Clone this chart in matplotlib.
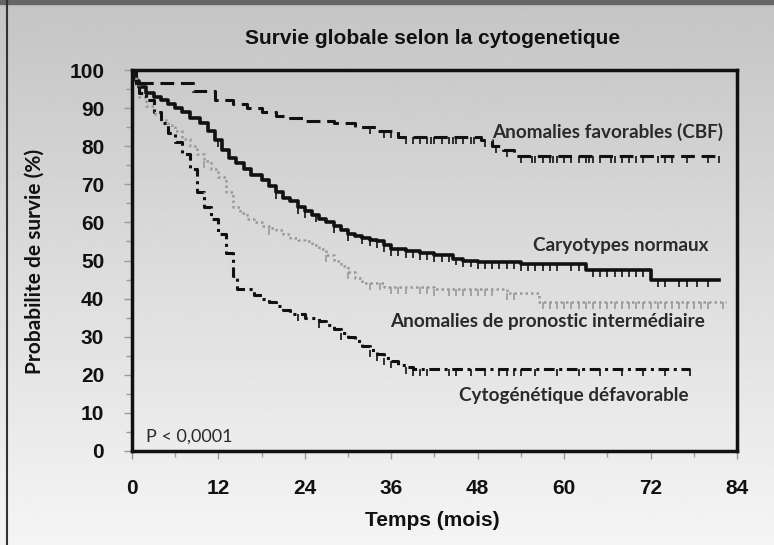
import numpy as np
import matplotlib
matplotlib.use('Agg')
import matplotlib.pyplot as plt
from matplotlib.ticker import MultipleLocator

# ---------------- data ----------------
x_ticks = [0, 12, 24, 36, 48, 60, 72, 84]
y_ticks = [0, 10, 20, 30, 40, 50, 60, 70, 80, 90, 100]

# Anomalies favorables (CBF)
cbf_t = [0, 0.4, 1.0, 8.5, 11.5, 14, 16, 18, 20, 22, 24, 28, 31, 34, 37, 48.5, 50, 51.5, 53]
cbf_s = [100, 98, 96.5, 94.5, 92, 91, 90, 89, 88, 87.5, 86.5, 86, 85, 84, 82.5, 81.5, 80, 79, 77.5]
cbf_end = 81.5
cbf_cens = [33, 35, 36, 38, 39, 40, 41, 41.5, 42, 43, 44, 44.5, 45, 46, 47, 47.5, 49, 50.5, 52,
            54, 55.5, 56, 57, 58, 58.5, 59, 60, 61, 62, 63, 63.5, 64, 65, 66.5, 67, 68, 69, 70,
            71, 73, 74, 75, 77, 80, 81.5]

# Caryotypes normaux
norm_t = [0, 0.5, 1, 2, 3, 4, 5, 6, 7, 8, 9.5, 10.5, 11.5, 12.5, 13.5, 14.5, 15.5, 16.5, 18, 19,
          20, 21, 22, 23, 24, 25, 26, 27, 28, 29, 30, 31, 32, 33, 34, 35, 36, 38, 40, 42, 44.5,
          46, 48, 54, 63, 72]
norm_s = [100, 97, 95.5, 94, 93, 92, 91, 90, 89, 87.5, 86, 84, 81.5, 79, 77, 75.5, 74, 72.5, 71,
          69.5, 68, 66.5, 65.5, 64, 63, 62, 61, 60, 59, 58, 57, 56.5, 56, 55.5, 55, 54, 53, 52.5,
          52, 51.5, 50.5, 50, 49.5, 49, 47.5, 44.8]
norm_end = 81.5
norm_cens = [12, 20, 23, 24, 25.5, 28, 30, 32, 33, 34, 35, 36, 37, 38, 39, 40, 41, 42, 43, 44,
             45, 46, 47, 48, 49, 50, 51, 52, 53, 54, 55, 56, 57, 58, 59, 61, 62, 64, 65, 66, 67,
             68, 69, 70, 71, 73, 74, 76, 77, 78.5, 80]

# Anomalies de pronostic intermediaire
int_t = [0, 0.5, 1, 2, 3, 4, 5, 6, 7, 8, 9, 10, 11, 12, 13, 14, 15, 16, 17, 18, 19, 20, 21, 22,
         23, 24, 25, 26, 27, 28, 29, 30, 31, 32, 35, 42, 52, 56.5]
int_s = [100, 96, 93, 90.5, 88.5, 87, 85.5, 84, 82, 80, 78, 76, 74, 72, 68, 64, 62.5, 61, 60, 59,
         58.5, 58, 57, 56, 55.5, 55, 54, 53, 51.5, 50, 48.5, 47, 45.5, 44, 43, 42.5, 41.5, 39]
int_end = 82.5
int_cens = [10, 19, 27, 30, 33, 34.5, 36, 37, 38, 40, 41, 42, 44, 45, 46, 47, 48, 49, 50, 52, 53,
            57, 58, 59, 60, 61, 62, 63, 64, 65, 66, 67, 68, 69, 70, 71, 72, 73, 74, 75, 76, 77,
            78, 79, 80, 82]

# Cytogenetique defavorable
def_t = [0, 0.5, 1, 2, 3, 4, 5, 6, 7, 8, 9, 10, 11, 12, 13, 14, 14.6, 17, 18, 19, 20, 21, 22, 24,
         26, 27, 28, 29, 30, 31, 32, 33, 34, 35, 36, 37, 38, 39]
def_s = [100, 96, 94, 92, 89, 86, 83.5, 81, 78, 74, 68, 64, 61, 57, 52, 46, 42.5, 41, 40, 39, 38,
         37, 36, 35, 34, 33, 32, 31, 30, 29, 27.5, 26.5, 25.5, 24.5, 23.5, 22.5, 22, 21.5]
def_end = 77.5
def_cens = [23, 26, 29, 33, 34, 35, 36, 38, 39, 40, 41, 44, 45, 47, 49, 51, 52, 53, 54, 56, 59,
            62, 65, 68, 71, 74, 77.5]

labels = ["Anomalies favorables (CBF)", "Caryotypes normaux",
          "Anomalies de pronostic intermédiaire", "Cytogénétique défavorable"]

# ---------------- figure ----------------
W, H = 774, 545
fig = plt.figure(figsize=(W / 100, H / 100), dpi=100)

def fx(x):
    return x / W

def fy(y):
    return 1 - y / H

bg = fig.add_axes([0, 0, 1, 1], zorder=-10)
grad = np.linspace(0.77, 0.96, 256).reshape(-1, 1)
bg.imshow(grad, aspect='auto', cmap='gray', vmin=0, vmax=1, extent=[0, 1, 0, 1],
          origin='upper', interpolation='bilinear')
bg.set_xlim(0, 1)
bg.set_ylim(0, 1)
bg.axis('off')
bg.plot([fx(7), fx(7)], [0, 1], color='#333333', lw=1.5)
bg.axhspan(fy(4), 1, color='#666666')

L, R, T, B = 132, 737, 70, 451
ax = fig.add_axes([fx(L), fy(B), (R - L) / W, (B - T) / H])
ax.set_facecolor('none')
ax.set_xlim(0, 84)
ax.set_ylim(0, 100)

def draw(t, s, end, cens, **kw):
    tt = list(t) + [end]
    ss = list(s) + [s[-1]]
    ax.step(tt, ss, where='post', **kw)
    ta = np.array(t)
    sa = np.array(s)
    idx = np.searchsorted(ta, np.array(cens), side='right') - 1
    ax.vlines(cens, sa[idx] - 1.8, sa[idx], color=kw.get('color', 'k'), lw=1.2)

draw(cbf_t, cbf_s, cbf_end, cbf_cens, color='#111111', lw=2.2, dashes=(4.5, 2.2))
draw(norm_t, norm_s, norm_end, norm_cens, color='#111111', lw=2.6)
draw(int_t, int_s, int_end, int_cens, color='#9a9a9a', lw=1.8, dashes=(1.0, 1.2))
draw(def_t, def_s, def_end, def_cens, color='#111111', lw=2.2, dashes=(3.5, 1.5, 1.0, 1.5))

for sp in ax.spines.values():
    sp.set_linewidth(2.5)
    sp.set_color('#111111')

ax.set_xticks(x_ticks)
ax.set_yticks(y_ticks)
ax.xaxis.set_minor_locator(MultipleLocator(6))
ax.yaxis.set_minor_locator(MultipleLocator(5))
ax.tick_params(which='both', direction='out', color='#9a9a9a', width=1)
ax.tick_params(which='major', length=6)
ax.tick_params(which='minor', length=4)
ax.tick_params(axis='x', pad=14)
ax.tick_params(axis='y', pad=14)

narrow = ['Liberation Sans Narrow', 'Liberation Sans', 'DejaVu Sans']
for lab in ax.get_xticklabels() + ax.get_yticklabels():
    lab.set_family(narrow)
    lab.set_fontweight('bold')
    lab.set_fontsize(15)
    lab.set_color('#111111')

fig.text(fx(433), fy(38), "Survie globale selon la cytogenetique", family=narrow,
         fontweight='bold', fontsize=15, ha='center', va='center', color='#111111')
fig.text(fx(432), fy(521), "Temps (mois)", family=narrow, fontweight='bold', fontsize=15,
         ha='center', va='center', color='#111111')
fig.text(fx(35), fy(261), "Probabilite de survie (%)", family=['Lato', 'DejaVu Sans'],
         fontweight='bold', fontsize=15, ha='center', va='center', rotation=90,
         color='#111111')

lab_font = dict(family=['Lato', 'DejaVu Sans'], fontweight='bold', fontsize=13.6,
                color='#2a2a2a', va='center')
fig.text(fx(492), fy(132), labels[0], ha='left', **lab_font)
fig.text(fx(533), fy(246), labels[1], ha='left', **lab_font)
fig.text(fx(390), fy(321), labels[2], ha='left', **lab_font)
fig.text(fx(459), fy(396), labels[3], ha='left', **lab_font)
fig.text(fx(146), fy(437), "P < 0,0001", family=['Lato', 'DejaVu Sans'], fontsize=13,
         color='#2a2a2a', ha='left', va='center')

fig.savefig('out.png', dpi=100)
